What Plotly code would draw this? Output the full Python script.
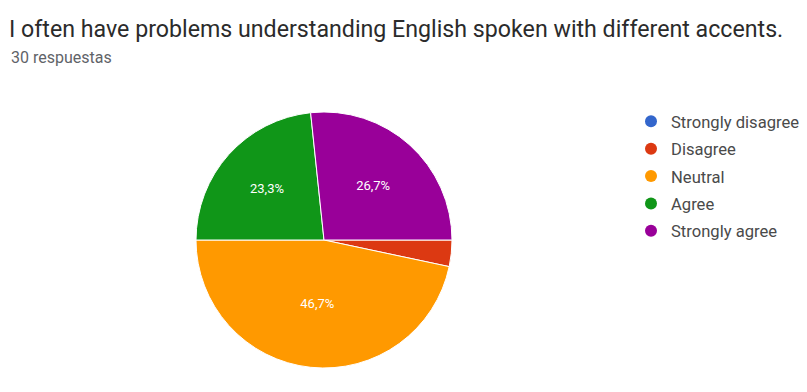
import plotly.graph_objects as go

# Survey responses (30 total)
categories = ["Strongly disagree", "Disagree", "Neutral", "Agree", "Strongly agree"]
counts = [0, 1, 14, 7, 8]
colors = ["#3366cc", "#dc3912", "#ff9900", "#109618", "#990099"]
title_text = "I often have problems understanding English spoken with different accents."
subtitle_text = "30 respuestas"

W, H = 807, 392
cx, cy, r = 324, 240, 128  # pie centre and radius in pixels

# only slices big enough get a label
text_pos = ["inside" if c / sum(counts) > 0.05 else "none" for c in counts]

fig = go.Figure()
fig.add_trace(go.Pie(
    labels=categories,
    values=counts,
    marker=dict(colors=colors, line=dict(color="white", width=1)),
    sort=False,
    direction="clockwise",
    rotation=90,
    textposition=text_pos,
    texttemplate="%{percent:.1%}",
    insidetextorientation="horizontal",
    textfont=dict(color="white", size=13, family="Roboto"),
    showlegend=False,
    hoverinfo="label+percent",
    domain=dict(x=[(cx - r) / W, (cx + r) / W],
                y=[(H - cy - r) / H, (H - cy + r) / H]),
))

# circular legend markers
for name, col in zip(categories, colors):
    fig.add_trace(go.Scatter(
        x=[None], y=[None], mode="markers", name=name,
        marker=dict(color=col, size=12, symbol="circle"),
        legendgroup=name, showlegend=True,
    ))

fig.update_layout(
    width=W, height=H,
    margin=dict(l=0, r=0, t=0, b=0),
    paper_bgcolor="white", plot_bgcolor="white",
    separators=",.",
    xaxis=dict(visible=False), yaxis=dict(visible=False),
    title=dict(text=title_text, x=9 / W, xanchor="left", y=1 - 29 / H, yanchor="middle",
               font=dict(family="Roboto", size=23.2, color="#2b2b2b")),
    legend=dict(x=631 / W, xanchor="left", y=1 - 104 / H, yanchor="top",
                font=dict(family="Roboto", size=16.6, color="#4a4a4a"),
                traceorder="grouped", tracegroupgap=2.8,
                itemclick=False, bgcolor="rgba(0,0,0,0)"),
    annotations=[dict(text=subtitle_text, x=9 / W, xref="paper", xanchor="left",
                      y=1 - 57 / H, yref="paper", yanchor="middle", showarrow=False,
                      font=dict(family="Roboto", size=16, color="#5f6368"))],
)

fig.write_html("out.html")
